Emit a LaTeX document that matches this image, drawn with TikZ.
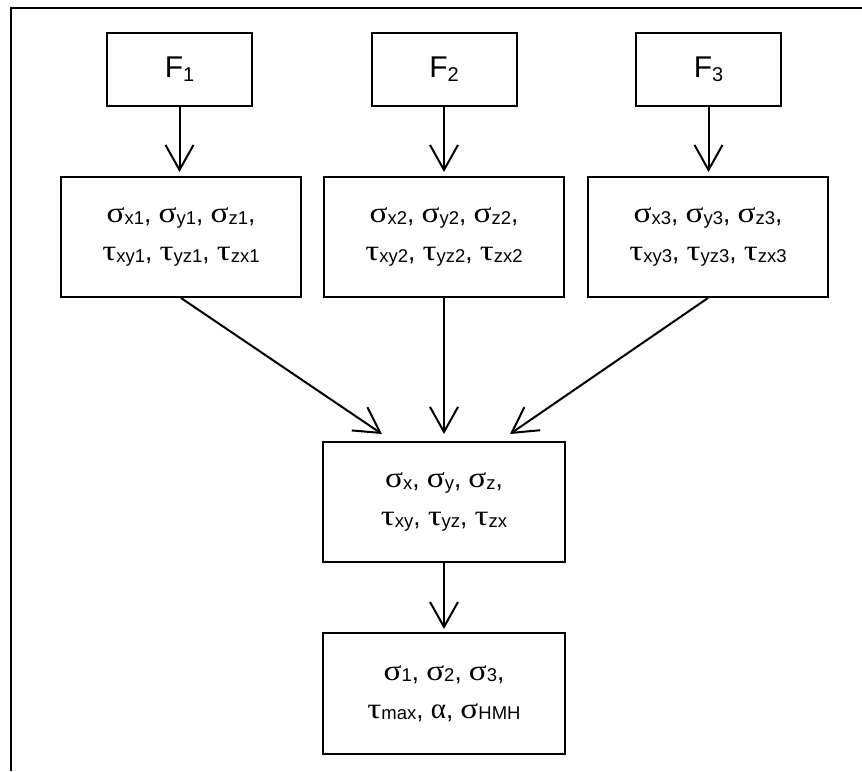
\documentclass[tikz,border=0pt]{standalone}
\usepackage{fontspec}
\usepackage{graphicx}
\setmainfont{Liberation Sans}
\newfontfamily\gkfont{Liberation Serif}
\usetikzlibrary{arrows.meta,calc}
\newcommand\sbx[1]{\raisebox{-1.5pt}{\fontsize{18.5}{18.5}\selectfont #1}}
\newcommand\sbf[1]{\raisebox{-4pt}{\fontsize{20}{20}\selectfont #1}}
\newcommand\gsig{{\gkfont\fontsize{29}{38}\selectfont\scalebox{1.15}[1]{σ}}}
\newcommand\gtau{{\gkfont\fontsize{29}{38}\selectfont\scalebox{1.2}[1]{τ}}}
\newcommand\galp{{\gkfont\fontsize{29}{38}\selectfont α}}
\tikzset{
  box/.style={draw, line width=2pt, inner sep=0pt, align=center,
    font=\fontsize{26}{38}\selectfont},
  fbox/.style={box, minimum width=145pt, minimum height=73pt, font=\fontsize{30}{36}\selectfont},
  sbox/.style={box, minimum width=240pt, minimum height=120pt},
  arr/.style={line width=2pt, -{Straight Barb[length=25pt, width=28pt, line width=2pt]}},
  frame/.style={line width=2pt}
}
\begin{document}
\begin{tikzpicture}[x=1pt, y=-1pt]
\useasboundingbox (0,0) rectangle (862,771);
\coordinate (tl) at (11,8);
\coordinate (tr) at (862,8);
\coordinate (bl) at (11,771);
\draw[frame] (bl) -- (tl) -- (tr);

\node[fbox] (F1) at (179.5,69.5) {F\sbf{1}};
\node[fbox] (F2) at (444,69.5) {F\sbf{2}};
\node[fbox] (F3) at (708.5,69.5) {F\sbf{3}};

\node[sbox] (S1) at (181,237) {\gsig\sbx{x1}, \gsig\sbx{y1}, \gsig\sbx{z1},\\ \gtau\sbx{xy1}, \gtau\sbx{yz1}, \gtau\sbx{zx1}};
\node[sbox] (S2) at (444,237) {\gsig\sbx{x2}, \gsig\sbx{y2}, \gsig\sbx{z2},\\ \gtau\sbx{xy2}, \gtau\sbx{yz2}, \gtau\sbx{zx2}};
\node[sbox] (S3) at (708,237) {\gsig\sbx{x3}, \gsig\sbx{y3}, \gsig\sbx{z3},\\ \gtau\sbx{xy3}, \gtau\sbx{yz3}, \gtau\sbx{zx3}};

\node[sbox, minimum width=242pt] (M) at (444,502) {\gsig\sbx{x}, \gsig\sbx{y}, \gsig\sbx{z},\\ \gtau\sbx{xy}, \gtau\sbx{yz}, \gtau\sbx{zx}};
\node[sbox, minimum width=242pt, minimum height=121pt] (R) at (444,693.5) {\gsig\sbx{1}, \gsig\sbx{2}, \gsig\sbx{3},\\ \gtau\sbx{max}, \galp, \gsig\sbx{HMH}};

\coordinate (mL) at ($(M.north)+(-62,-7)$);
\coordinate (mR) at ($(M.north)+(66,-7)$);

\draw[arr, shorten >=4pt] (F1.south) -- (F1.south |- S1.north);
\draw[arr, shorten >=4pt] (F2.south) -- (S2.north);
\draw[arr, shorten >=4pt] (F3.south) -- (F3.south |- S3.north);
\draw[arr] (S1.south) -- (mL);
\draw[arr, shorten >=7pt] (S2.south) -- (M.north);
\draw[arr] (S3.south) -- (mR);
\draw[arr, shorten >=3pt] (M.south) -- (R.north);
\end{tikzpicture}
\end{document}
